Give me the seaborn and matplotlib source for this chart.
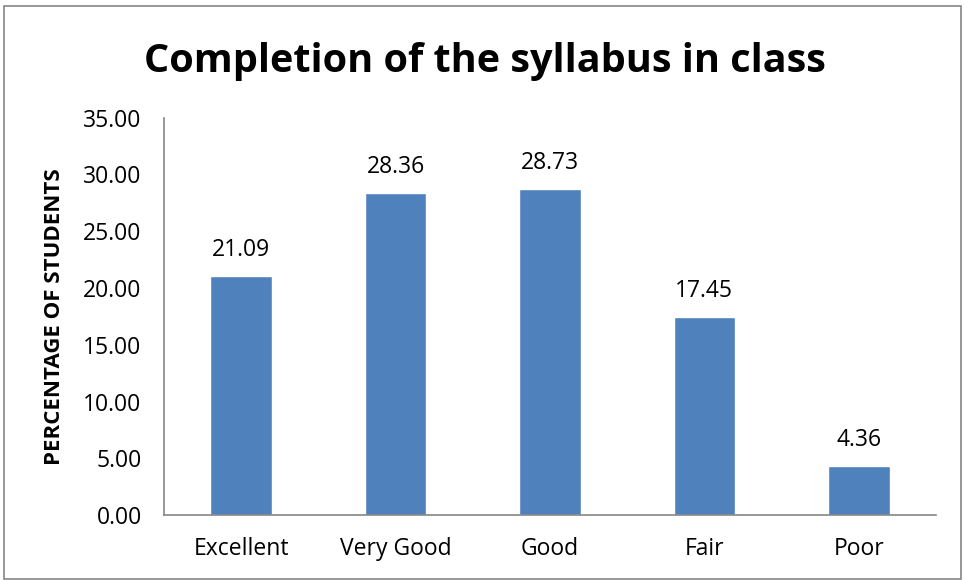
import matplotlib
matplotlib.use("Agg")
import matplotlib.pyplot as plt
import seaborn as sns
import pandas as pd
from matplotlib.patches import Rectangle

categories = ["Excellent", "Very Good", "Good", "Fair", "Poor"]
values = [21.09, 28.36, 28.73, 17.45, 4.36]
yticks = [0, 5, 10, 15, 20, 25, 30, 35]

sns.set_theme(style="white")
plt.rcParams["font.family"] = ["Open Sans", "DejaVu Sans"]
plt.rcParams["text.color"] = "black"
plt.rcParams["xtick.color"] = "black"
plt.rcParams["ytick.color"] = "black"
plt.rcParams["axes.labelcolor"] = "black"

df = pd.DataFrame({"cat": categories, "val": values})

fig = plt.figure(figsize=(9.64, 5.8), dpi=100)
ax = fig.add_axes([0.170, 0.112, 0.801, 0.685])
sns.barplot(data=df, x="cat", y="val", color="#4F81BD", saturation=1, width=0.40, ax=ax)

ax.set_ylim(0, 35)
ax.set_yticks(yticks)
ax.set_yticklabels([f"{v:.2f}" for v in yticks], fontsize=16.5)
ax.tick_params(axis="x", labelsize=16.5, length=0, pad=16)
ax.tick_params(axis="y", length=0, pad=16)
ax.set_xlabel("")
ax.set_ylabel("PERCENTAGE OF STUDENTS", fontsize=16, fontweight="bold")
ax.yaxis.set_label_coords(-0.128, 0.5)
for s in ["top", "right"]:
    ax.spines[s].set_visible(False)
for s in ["left", "bottom"]:
    ax.spines[s].set_color("#868686")
    ax.spines[s].set_linewidth(1.2)

for c in ax.containers:
    ax.bar_label(c, labels=[f"{v:.2f}" for v in values], padding=10, fontsize=16.5)

fig.suptitle("Completion of the syllabus in class", x=0.503, y=0.928, fontsize=28.5, fontweight="bold")
fig.patches.append(Rectangle((0.004, 0.002), 0.993, 0.988, transform=fig.transFigure,
                             fill=False, edgecolor="#868686", linewidth=1.2))

fig.savefig("out.png", dpi=100)
